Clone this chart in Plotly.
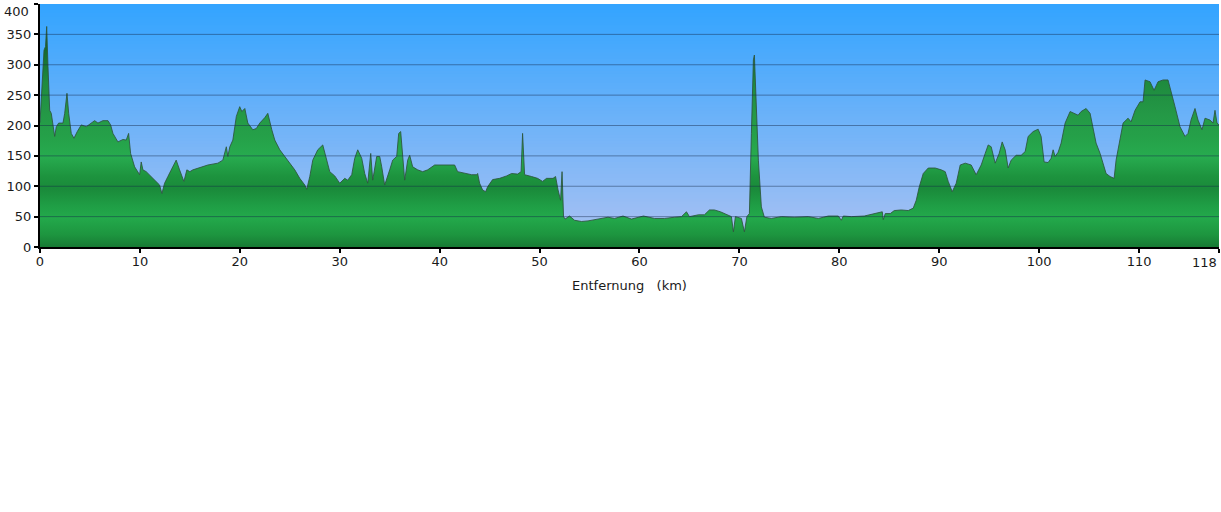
import plotly.graph_objects as go

# ---- data ----
km = [0.0, 0.4, 0.55, 0.67, 0.8, 0.97, 1.13, 1.3, 1.47, 1.63, 1.87, 2.3, 2.47, 2.7, 2.87, 3.13, 3.4, 3.73,
      4.13, 4.63, 5.13, 5.47, 5.8, 6.3, 6.8, 7.07, 7.3, 7.8, 8.3, 8.63, 8.87, 9.07, 9.47, 9.97, 10.13, 10.3,
      10.63, 11.13, 11.63, 11.97, 12.2, 12.47, 12.8, 13.3, 13.63, 13.97, 14.4, 14.7, 15.0, 15.3, 15.8, 16.13,
      16.8, 17.8, 18.3, 18.65, 18.8, 19.0, 19.3, 19.65, 19.99, 20.2, 20.5, 20.8, 21.3, 21.65, 22.0, 22.5,
      22.8, 23.2, 23.5, 24.0, 24.5, 25.0, 25.5, 26.0, 26.5, 26.7, 27.0, 27.3, 27.8, 28.3, 28.7, 29.0, 29.5,
      29.8, 30.0, 30.5, 30.8, 31.2, 31.5, 31.8, 32.2, 32.5, 32.8, 33.1, 33.3, 33.7, 34.0, 34.2, 34.5, 35.0,
      35.3, 35.7, 35.9, 36.1, 36.3, 36.5, 36.8, 37.0, 37.3, 37.8, 38.3, 38.8, 39.5, 40.2, 40.8, 41.5, 41.8,
      42.5, 43.2, 43.7, 43.8, 44.0, 44.3, 44.6, 44.8, 45.3, 46.0, 46.7, 47.2, 47.8, 48.15, 48.3, 48.5, 49.2,
      49.8, 50.3, 50.7, 51.35, 51.6, 51.85, 52.1, 52.25, 52.4, 52.55, 53.0, 53.5, 54.2, 54.85, 55.85, 56.85,
      57.5, 58.35, 59.2, 60.4, 61.5, 62.5, 63.5, 64.2, 64.7, 65.0, 65.9, 66.5, 67.0, 67.5, 68.1, 68.5, 69.2,
      69.4, 69.6, 70.2, 70.5, 70.75, 71.0, 71.2, 71.4, 71.5, 71.7, 71.9, 72.2, 72.5, 73.2, 74.2, 75.5, 76.9,
      77.9, 78.9, 79.9, 80.2, 80.4, 81.2, 82.5, 83.6, 84.3, 84.4, 84.6, 85.1, 85.5, 86.2, 86.9, 87.4, 87.7,
      88.0, 88.4, 88.9, 89.6, 90.2, 90.6, 90.9, 91.3, 91.7, 92.1, 92.6, 93.2, 93.7, 94.2, 94.6, 94.9, 95.2,
      95.6, 96.0, 96.3, 96.6, 96.9, 97.2, 97.7, 98.2, 98.6, 98.9, 99.4, 99.9, 100.2, 100.5, 100.9, 101.2,
      101.4, 101.6, 101.9, 102.2, 102.6, 103.1, 103.6, 103.9, 104.2, 104.7, 105.1, 105.4, 105.7, 106.1,
      106.4, 106.7, 107.1, 107.5, 107.7, 108.1, 108.4, 108.9, 109.2, 109.6, 110.1, 110.4, 110.6, 111.1,
      111.5, 111.9, 112.4, 112.9, 113.2, 113.6, 114.1, 114.6, 114.9, 115.2, 115.6, 115.9, 116.3, 116.6,
      117.1, 117.4, 117.6, 117.8, 118.0]
elevation = [205, 324, 330, 363, 297, 225, 220, 198, 182, 198, 204, 204, 220, 253, 220, 187, 179, 190,
             201, 198, 204, 208, 204, 208, 208, 201, 187, 173, 177, 176, 187, 154, 132, 119, 140, 127,
             124, 116, 108, 102, 88, 105, 116, 132, 143, 127, 108, 127, 124, 127, 130, 132,
             135, 138, 143, 165, 149, 165, 176, 215, 231, 223, 228, 204, 193, 195, 204, 213,
             220, 193, 176, 160, 149, 138, 127, 113, 102, 95, 116, 143, 160, 168, 143, 124, 117,
             110, 105, 113, 110, 119, 146, 160, 146, 121, 105, 154, 110, 149, 149, 132, 102, 127,
             143, 149, 187, 190, 149, 110, 143, 151, 132, 127, 124, 127, 135, 135, 135, 135, 124,
             121, 119, 119, 121, 105, 94, 91, 99, 111, 113, 117, 121, 120, 124, 187, 119, 116,
             113, 108, 113, 113, 116, 94, 77, 124, 50, 46, 51, 44, 42, 43, 46, 49,
             47, 51, 46, 51, 47, 47, 49, 50, 58, 50, 53, 53, 61, 61, 58, 55, 50,
             25, 50, 47, 25, 50, 55, 187, 308, 316, 242, 143, 66, 49, 47, 50, 49, 50,
             47, 51, 51, 44, 51, 50, 51, 55, 58, 45, 55, 55, 60, 61, 60, 64, 77,
             99, 121, 130, 130, 127, 124, 108, 91, 105, 135, 138, 135, 119, 135, 154, 168, 165,
             138, 154, 173, 160, 130, 143, 151, 151, 157, 182, 190, 194, 182, 140, 139, 146,
             160, 149, 156, 171, 204, 223, 220, 217, 223, 228, 220, 193, 171, 154,
             138, 121, 116, 113, 143, 182, 204, 212, 206, 225, 239, 239, 275, 272,
             258, 272, 275, 275, 258, 231, 198, 182, 187, 209, 228, 209, 193, 212,
             209, 204, 225, 204, 201]

x_tickvals = [0, 10, 20, 30, 40, 50, 60, 70, 80, 90, 100, 110, 118]
y_tickvals = [0, 50, 100, 150, 200, 250, 300, 350, 400]
x_title = "Entfernung   (km)"

FONT = "DejaVu Sans, Verdana, sans-serif"
TXT = "#1a1a1a"

# ---- figure ----
fig = go.Figure()

fig.add_trace(go.Scatter(
    x=km, y=elevation, mode="lines",
    line=dict(color="rgba(45,85,60,0.85)", width=1),
    fill="tozeroy",
    fillgradient=dict(
        type="vertical", start=0, stop=400,
        colorscale=[
            [0.0, "#177a34"], [0.05, "#1d953f"], [0.12, "#23a94b"], [0.17, "#1f9e45"],
            [0.24, "#1a8a3a"], [0.29, "#1d933e"], [0.37, "#27ab4f"], [0.45, "#25a149"],
            [0.55, "#249846"], [0.68, "#1e8a3e"], [0.80, "#166c30"], [1.0, "#0e4f22"],
        ],
    ),
    hoverinfo="skip", showlegend=False,
))

# background gradient (sky)
shapes = []
n = 80
top = (51, 164, 255)
bot = (172, 194, 242)
for i in range(n):
    t = i / (n - 1)
    c = tuple(int(round(bot[k] + (top[k] - bot[k]) * t)) for k in range(3))
    shapes.append(dict(type="rect", xref="paper", yref="paper", layer="below",
                       x0=0, x1=1, y0=i / n, y1=1,
                       fillcolor=f"rgb{c}", line=dict(width=0)))
# grid lines drawn above the fill
for v in y_tickvals[1:-1]:
    shapes.append(dict(type="line", xref="paper", yref="y", layer="above",
                       x0=0, x1=1, y0=v, y1=v,
                       line=dict(color="rgba(20,40,70,0.45)", width=1)))

# edge labels (shifted inward like in the reference) and axis title
x_ticktext = [str(v) for v in x_tickvals[:-1]] + [""]
y_ticktext = [str(v) for v in y_tickvals[:-1]] + [""]
annotations = [
    dict(text=str(x_tickvals[-1]), x=x_tickvals[-1], xref="x", y=0, yref="paper",
         xanchor="right", yanchor="middle", yshift=-15, xshift=0, showarrow=False,
         font=dict(family=FONT, size=13, color=TXT)),
    dict(text=str(y_tickvals[-1]), x=0, xref="paper", y=y_tickvals[-1], yref="y",
         xanchor="right", yanchor="top", xshift=-9, yshift=2, showarrow=False,
         font=dict(family=FONT, size=13, color=TXT)),
    dict(text=x_title, x=0.5, xref="paper", y=0, yref="paper",
         xanchor="center", yanchor="middle", yshift=-38, showarrow=False,
         font=dict(family=FONT, size=13, color=TXT)),
]

fig.update_layout(
    width=1221, height=512,
    margin=dict(l=40, r=2, t=4, b=265, autoexpand=False),
    paper_bgcolor="white", plot_bgcolor="white",
    shapes=shapes, annotations=annotations,
    font=dict(family=FONT, size=13, color=TXT),
    xaxis=dict(range=[0, 118.001], tickvals=x_tickvals, ticktext=x_ticktext,
               showgrid=False, zeroline=False, showline=True, linecolor="black", linewidth=2,
               ticks="outside", ticklen=4, tickwidth=2, tickcolor="black", automargin=False,
               ticklabelstandoff=-3),
    yaxis=dict(range=[0, 400.01], tickvals=y_tickvals, ticktext=y_ticktext,
               showgrid=False, zeroline=False,
               showline=True, linecolor="black", linewidth=2, automargin=False,
               ticks="outside", ticklen=4, tickwidth=2, tickcolor="black"),
)

fig.write_html("out.html", config={"displayModeBar": False},
               post_script="document.body.style.margin='0px';")
